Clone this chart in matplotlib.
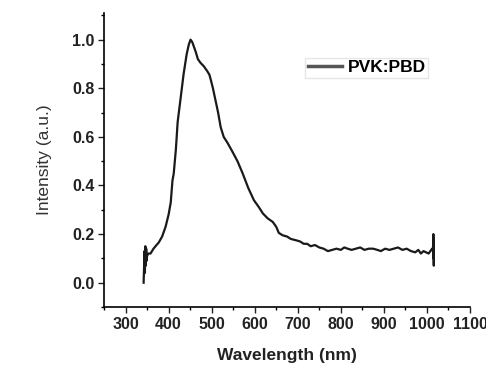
import matplotlib
matplotlib.use("Agg")
import matplotlib.pyplot as plt
from matplotlib.ticker import MultipleLocator

wavelength = [342, 343, 344, 345, 346, 347, 348, 349, 350, 353, 358, 365, 372, 377, 385,
              393, 400, 405, 409, 412, 417, 421, 428, 435, 442, 447, 451, 455, 459, 463,
              468, 474, 482, 490, 495, 498, 503, 509, 515, 521, 528, 537, 548, 560, 572,
              585, 598, 610, 619, 630, 642, 650, 656, 665, 675, 684, 695, 705, 714, 722,
              730, 740, 750, 760, 770, 780, 790, 800, 808, 816, 825, 835, 845, 855, 865,
              875, 885, 893, 903, 913, 923, 933, 943, 953, 963, 973, 980, 986, 992, 998,
              1004, 1008, 1012, 1014, 1015, 1016, 1016, 1016, 1016]
intensity = [0.00, 0.06, 0.13, 0.04, 0.15, 0.07, 0.14, 0.09, 0.11, 0.12, 0.12, 0.14, 0.155, 0.165, 0.19,
             0.23, 0.28, 0.33, 0.42, 0.45, 0.55, 0.66, 0.76, 0.86, 0.94, 0.98, 1.00, 0.99, 0.97, 0.95,
             0.92, 0.905, 0.89, 0.87, 0.855, 0.835, 0.80, 0.75, 0.70, 0.64, 0.60, 0.575, 0.54, 0.50, 0.45,
             0.39, 0.34, 0.31, 0.285, 0.265, 0.25, 0.23, 0.205, 0.195, 0.19, 0.18, 0.175, 0.17, 0.16, 0.16,
             0.15, 0.155, 0.145, 0.14, 0.13, 0.135, 0.14, 0.135, 0.145, 0.14, 0.135, 0.14, 0.145, 0.135, 0.14,
             0.14, 0.135, 0.13, 0.14, 0.135, 0.14, 0.145, 0.135, 0.14, 0.13, 0.125, 0.135, 0.12, 0.13, 0.125,
             0.12, 0.13, 0.14, 0.13, 0.20, 0.07, 0.18, 0.10, 0.14]

x_ticks = [300, 400, 500, 600, 700, 800, 900, 1000, 1100]
y_ticks = [0.0, 0.2, 0.4, 0.6, 0.8, 1.0]
series_label = "PVK:PBD"

plt.rcParams['font.family'] = ['Liberation Sans', 'DejaVu Sans']
plt.rcParams['font.weight'] = 'bold'

fig = plt.figure(figsize=(4.86, 3.69), dpi=100)
ax = fig.add_axes([0.214, 0.168, 0.753, 0.797])
ax.plot(wavelength, intensity, color='#1a1a1a', lw=1.6, label=series_label)

ax.set_xlim(250, 1100)
ax.set_ylim(-0.1, 1.11)
ax.set_xticks(x_ticks)
ax.set_yticks(y_ticks)
ax.set_yticklabels([f"{v:.1f}" for v in y_ticks])
ax.xaxis.set_minor_locator(MultipleLocator(50))
ax.yaxis.set_minor_locator(MultipleLocator(0.1))
ax.tick_params(which='major', direction='out', length=4, width=1, labelsize=11.5, colors='#222222', pad=3)
ax.tick_params(which='minor', direction='out', length=2.5, width=1)
for s in ['top', 'right']:
    ax.spines[s].set_visible(False)
for s in ['left', 'bottom']:
    ax.spines[s].set_linewidth(1.2)
for lbl in ax.get_xticklabels() + ax.get_yticklabels():
    lbl.set_fontweight('bold')

ax.set_xlabel("Wavelength (nm)", fontsize=12.5, fontweight='bold', color='#222222', labelpad=12)
ax.set_ylabel("Intensity (a.u.)", fontsize=12.5, fontweight='normal', color='#333333', labelpad=14)

leg = ax.legend(loc='center left', bbox_to_anchor=(0.549, 0.813), frameon=True, fancybox=False,
                edgecolor='#e0e0e0', fontsize=12.5, handlelength=2.0, borderpad=0.15,
                handletextpad=0.3, borderaxespad=0)
for t in leg.get_texts():
    t.set_fontweight('bold')
leg.get_lines()[0].set_color('#555555')
leg.get_lines()[0].set_linewidth(2.5)

fig.savefig("out.png", dpi=100)
